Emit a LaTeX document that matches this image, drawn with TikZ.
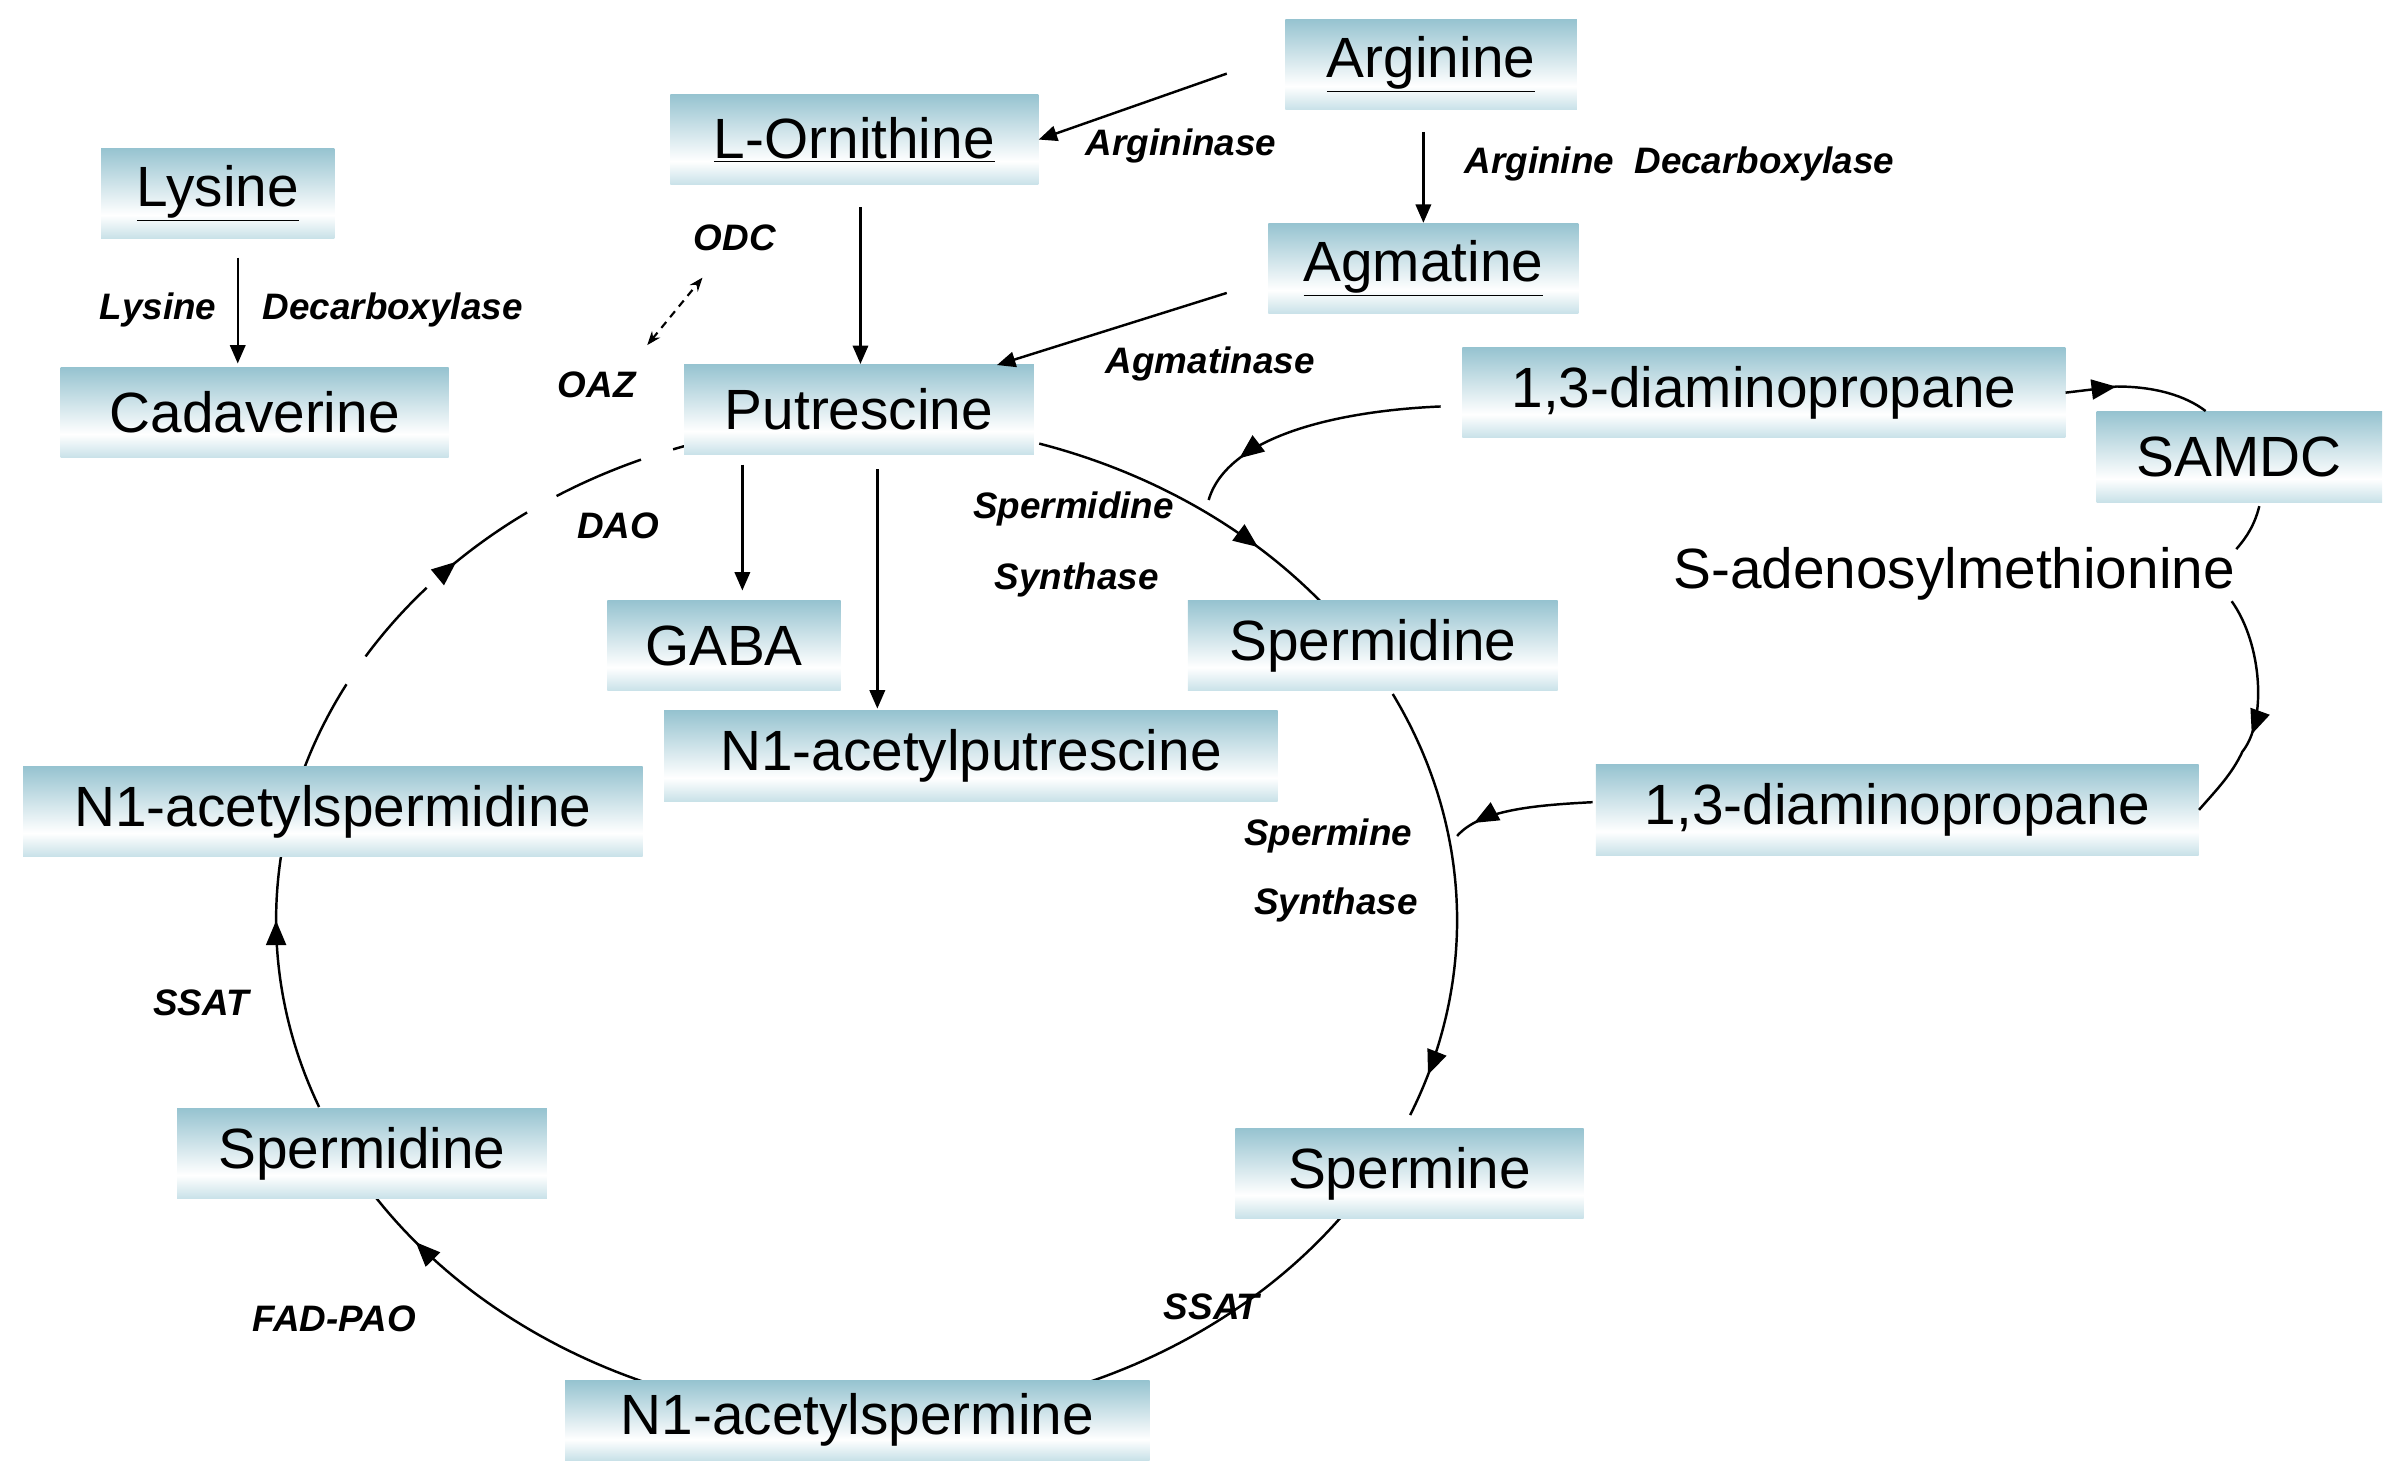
\documentclass[tikz,border=0pt]{standalone}
\usepackage{fontspec}
\setmainfont{Liberation Sans}
\usetikzlibrary{arrows.meta,decorations.markings}
\definecolor{boxb}{RGB}{150,195,208}
\definecolor{boxlt}{RGB}{200,225,232}
\pgfdeclareverticalshading{boxsh}{100bp}{color(0bp)=(boxlt); color(25bp)=(boxlt); color(38bp)=(white); color(75bp)=(boxb); color(100bp)=(boxb)}
\begin{document}
\begin{tikzpicture}[x=1pt,y=-1pt,
  box/.style={shading=boxsh, draw=none, minimum height=59pt, inner sep=0pt, font=\fontsize{37}{40}\selectfont},
  lab/.style={font=\fontsize{24}{26}\selectfont\bfseries\itshape},
  ar/.style={-{Triangle[length=12pt,width=10pt]}, line width=1.6pt},
  ln/.style={line width=1.6pt},
  mk/.style={postaction={decorate}, decoration={markings, mark=at position #1 with {\arrow{Triangle[length=16pt,width=13pt]}}}}]
\useasboundingbox (0,0) rectangle (1568,965);
\def\ell#1#2{plot[domain=#1:#2, samples=80] ({565+385*cos(\x)},{600-325*sin(\x)})}
% circle segments
\draw[ln,mk=0.73] \ell{73}{39};
\draw[ln,mk=0.9] \ell{27}{-23};
\draw[ln] \ell{-35}{-63};
\draw[ln,mk=0.92] \ell{-63}{-147};
\draw[ln,mk=0.55] \ell{202}{162};
\draw[ln,mk=0.5,dash pattern=on 60pt off 22pt] \ell{162}{108};
% boxes
\node[box,minimum width=190pt] (arg) at (933,42) {\underline{Arginine}};
\node[box,minimum width=240pt] (orn) at (557,91) {\underline{L-Ornithine}};
\node[box,minimum width=152pt] (lys) at (142,126) {\underline{Lysine}};
\node[box,minimum width=202pt] (agm) at (928,175) {\underline{Agmatine}};
\node[box,minimum width=253pt] (cad) at (166,269) {Cadaverine};
\node[box,minimum width=228pt] (put) at (560,267) {Putrescine};
\node[box,minimum width=393pt] (dap1) at (1150,256) {1,3-diaminopropane};
\node[box,minimum width=186pt] (samdc) at (1460,298) {SAMDC};
\node[font=\fontsize{37}{40}\selectfont] (sam) at (1274,374) {S-adenosylmethionine};
\node[box,minimum width=152pt] (gaba) at (472,421) {GABA};
\node[box,minimum width=241pt] (spd) at (895,421) {Spermidine};
\node[box,minimum width=400pt] (nap) at (633,493) {N1-acetylputrescine};
\node[box,minimum width=404pt] (nasd) at (217,529) {N1-acetylspermidine};
\node[box,minimum width=393pt] (dap2) at (1237,528) {1,3-diaminopropane};
\node[box,minimum width=241pt] (spd2) at (236,752) {Spermidine};
\node[box,minimum width=227pt] (spm) at (919,765) {Spermine};
\node[box,minimum width=381pt,minimum height=52pt] (nasm) at (559,926) {N1-acetylspermine};
% straight arrows
\draw[ar] (arg.west)++(-38,6) -- (orn.east);
\draw[ar] (928,86) -- (agm.north);
\draw[ar] (155,168) -- (155,237);
\draw[ar] (561,135) -- (put.north-|561,0);
\draw[{Stealth[length=9pt]}-{Stealth[length=9pt]},line width=1.4pt,dash pattern=on 5pt off 4pt] (422,225) -- (458,181);
\draw[ar] (agm.west)++(-27,16) -- (650,238);
\draw[ar] (484,303) -- (484,385);
\draw[ar] (572,306) -- (572,462);
% curved arrows
\coordinate (c1) at (788,326);
\draw[ln,mk=0.8] (dap1.west)++(-14,9) .. controls (870,268) and (800,285) .. (c1);
\draw[ln,mk=0.35] (dap1.east) -- (1380,252) .. controls (1405,252) and (1425,258) .. (1438,268);
\draw[ln] (1473,330) .. controls (1470,342) and (1465,350) .. (1458,358);
\draw[ln,mk=0.6] (1455,392) .. controls (1475,420) and (1478,470) .. (1462,490) .. controls (1455,505) and (1445,515) .. (dap2.east);
\draw[ln,mk=0.85] (dap2.west)++(-2,-5) .. controls (1000,525) and (965,528) .. (950,545);
% labels
\node[lab] at (770,95) {Argininase};
\node[lab] at (1095,107) {Arginine\ \ Decarboxylase};
\node[lab] at (103,202) {Lysine};
\node[lab] at (256,202) {Decarboxylase};
\node[lab] at (479,155) {ODC};
\node[lab] at (389,251) {OAZ};
\node[lab] at (789,237) {Agmatinase};
\node[lab] at (403,343) {DAO};
\node[lab] at (700,332) {Spermidine};
\node[lab] at (702,378) {Synthase};
\node[lab] at (866,545) {Spermine};
\node[lab] at (871,590) {Synthase};
\node[lab] at (790,852) {SSAT};
\node[lab] at (218,860) {FAD-PAO};
\node[lab] at (131,654) {SSAT};
\end{tikzpicture}
\end{document}
